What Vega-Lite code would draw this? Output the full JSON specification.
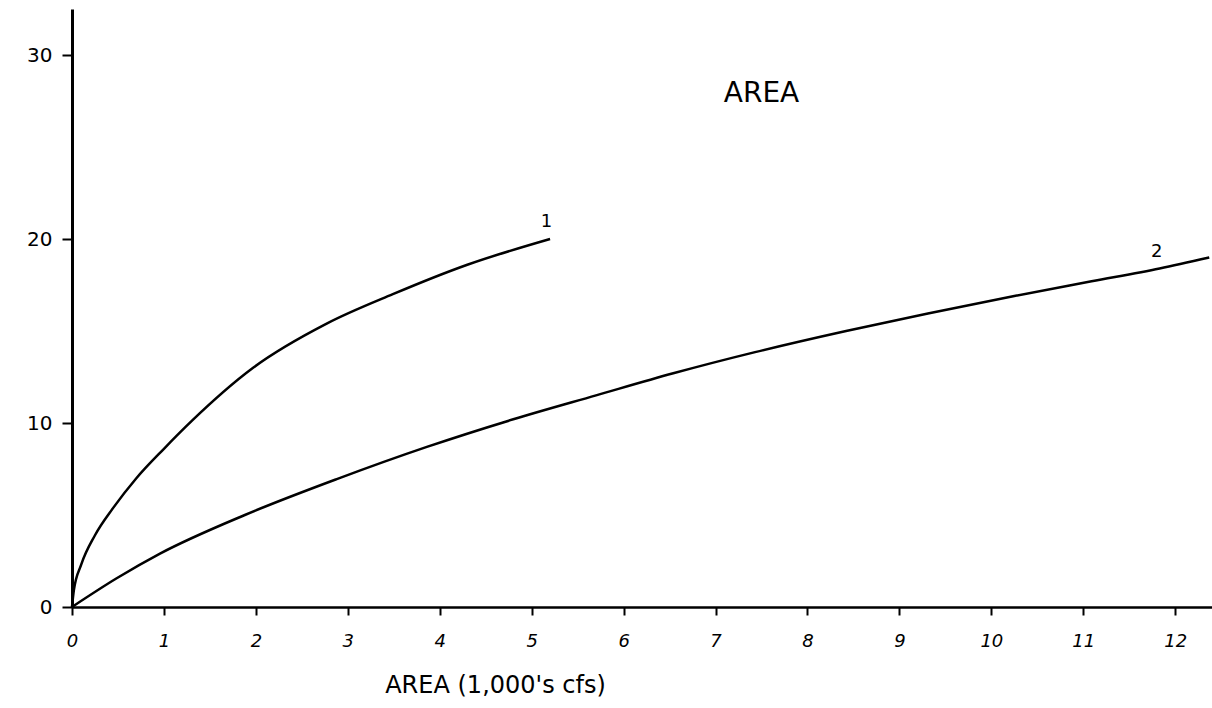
{
  "$schema": "https://vega.github.io/schema/vega-lite/v6.json",
  "width": 1140,
  "height": 598,
  "autosize": "none",
  "padding": {"left": 72, "top": 9, "right": 0, "bottom": 101},
  "background": "white",
  "config": {"view": {"stroke": null}, "font": "DejaVu Sans"},
  "datasets": {
    "curves": [
      {"series": "1", "x": 0, "y": 0},
      {"series": "1", "x": 0.02, "y": 0.9},
      {"series": "1", "x": 0.1, "y": 2.3},
      {"series": "1", "x": 0.25, "y": 3.9},
      {"series": "1", "x": 0.45, "y": 5.4},
      {"series": "1", "x": 0.7, "y": 7.0},
      {"series": "1", "x": 1.0, "y": 8.6},
      {"series": "1", "x": 1.3, "y": 10.1},
      {"series": "1", "x": 1.97, "y": 13.0},
      {"series": "1", "x": 2.77, "y": 15.4},
      {"series": "1", "x": 3.49, "y": 17.0},
      {"series": "1", "x": 4.3, "y": 18.6},
      {"series": "1", "x": 5.2, "y": 20.0},
      {"series": "2", "x": 0, "y": 0},
      {"series": "2", "x": 0.486, "y": 1.56},
      {"series": "2", "x": 0.957, "y": 2.9},
      {"series": "2", "x": 1.88, "y": 5.0},
      {"series": "2", "x": 2.88, "y": 6.95},
      {"series": "2", "x": 3.86, "y": 8.7},
      {"series": "2", "x": 4.8, "y": 10.2},
      {"series": "2", "x": 5.7, "y": 11.5},
      {"series": "2", "x": 6.54, "y": 12.7},
      {"series": "2", "x": 7.43, "y": 13.85},
      {"series": "2", "x": 8.42, "y": 15.0},
      {"series": "2", "x": 9.31, "y": 15.95},
      {"series": "2", "x": 10.25, "y": 16.9},
      {"series": "2", "x": 11.09, "y": 17.7},
      {"series": "2", "x": 11.83, "y": 18.4},
      {"series": "2", "x": 12.37, "y": 19.0}
    ],
    "labels": [
      {"text": "1", "x": 5.16, "y": 20.9, "size": 18},
      {"text": "2", "x": 11.8, "y": 19.3, "size": 18},
      {"text": "AREA", "x": 7.5, "y": 27.9, "size": 28}
    ]
  },
  "layer": [
    {
      "data": {"name": "curves"},
      "mark": {"type": "line", "color": "black", "strokeWidth": 2.5, "interpolate": "monotone", "clip": false},
      "encoding": {
        "x": {
          "field": "x", "type": "quantitative",
          "scale": {"domain": [0, 12.4], "nice": false, "zero": false},
          "axis": {
            "values": [0,1,2,3,4,5,6,7,8,9,10,11,12],
            "format": "d",
            "grid": false, "domainColor": "black", "domainWidth": 2.5,
            "tickColor": "black", "tickWidth": 2, "tickSize": 8,
            "labelColor": "black", "labelFontSize": 18, "labelFontStyle": "italic",
            "labelPadding": 17, "labelFlush": false,
            "title": "AREA (1,000's cfs)", "titleFontSize": 24, "titleFontWeight": "normal",
            "titleColor": "black", "titleX": 423, "titleY": 78, "titleAlign": "center",
            "titleBaseline": "middle"
          }
        },
        "y": {
          "field": "y", "type": "quantitative",
          "scale": {"domain": [0, 32.5], "nice": false, "zero": false},
          "axis": {
            "values": [0, 10, 20, 30],
            "format": "d",
            "grid": false, "domainColor": "black", "domainWidth": 3,
            "tickColor": "black", "tickWidth": 2, "tickSize": 10,
            "labelColor": "black", "labelFontSize": 20, "labelPadding": 10,
            "labelFlush": false, "title": null
          }
        },
        "detail": {"field": "series"}
      }
    },
    {
      "data": {"name": "labels"},
      "mark": {"type": "text", "color": "black", "font": "DejaVu Sans", "clip": false},
      "encoding": {
        "x": {"field": "x", "type": "quantitative"},
        "y": {"field": "y", "type": "quantitative"},
        "text": {"field": "text"},
        "size": {"field": "size", "type": "quantitative", "scale": null}
      }
    }
  ]
}
